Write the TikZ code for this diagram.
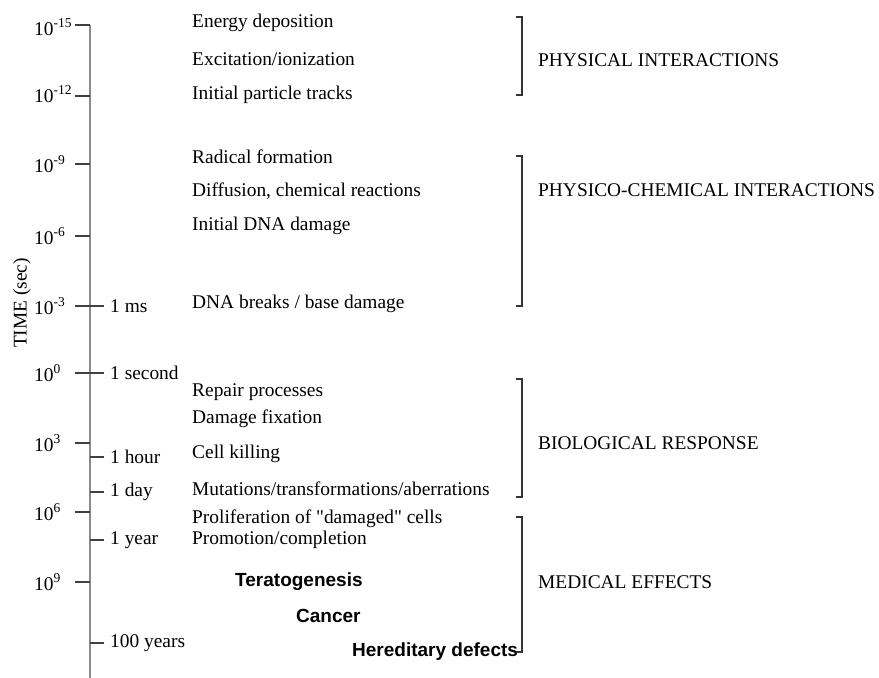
\documentclass[tikz,border=0pt]{standalone}
\usepackage{fontspec}
\setmainfont{Liberation Serif}
\newfontfamily\effectfont{Liberation Sans}
\newcommand\straightquote{\XeTeXglyph\XeTeXcharglyph"22\relax}
\newcommand\tenpow[1]{10\raisebox{8pt}{\fontsize{13.5}{15}\selectfont #1}}

\begin{document}
\begin{tikzpicture}[x=1pt, y=-1pt,
  every node/.style={font=\fontsize{19.4}{22}\selectfont, inner sep=0pt},
  event/.style={anchor=west},
  effect/.style={anchor=west, font=\fontsize{19}{22}\selectfont\effectfont\bfseries},
  group/.style={anchor=west},
  tick/.style={draw=black!75, line width=1.1pt}]
  \useasboundingbox (0,0) rectangle (879,678);

  % time axis
  \draw[black!45, line width=1.3pt] (90,25) -- (90,678);
  \node[rotate=90] (axislabel) at (22,303) {TIME (sec)};

  \foreach \y/\e [count=\i] in {27/-15, 94/-12, 164/-9, 236/-6, 306/-3, 373/0, 443/3, 512/6, 582/9} {
    \node[anchor=west] (pow\i) at (34,\y) {\tenpow{\e}};
  }
  \foreach \y in {25, 96, 164, 236, 306, 373, 443, 512, 582}
    \draw[tick] (75,\y) -- (90,\y);
  \foreach \y/\t [count=\i] in {306/1 ms, 373/1 second, 457/1 hour, 492/1 day, 540/1 year, 643/100 years} {
    \draw[tick] (90,\y) -- (104,\y);
    \node[anchor=west] (clock\i) at (110,\y) {\t};
  }

  % events
  \foreach \y/\t [count=\i] in {23/Energy deposition, 59/{Excitation/ionization}, 95/Initial particle tracks,
      157/Radical formation, 191/{Diffusion, chemical reactions}, 226/Initial DNA damage,
      304/{DNA breaks / base damage}, 392/Repair processes, 419/Damage fixation, 454/Cell killing,
      489/{Mutations/transformations/aberrations},
      519/{Proliferation of \straightquote damaged\straightquote\ cells},
      540/{Promotion/completion}}
    \node[event] (ev\i) at (192,\y) {\t};

  \node[effect] (terato) at (235,582) {Teratogenesis};
  \node[effect] (cancer) at (296,616) {Cancer};
  \node[effect] (hered) at (352,652) {Hereditary defects};

  % brackets
  \foreach \t/\b in {17/95, 156/306, 379/497, 517/652}
    \draw[black!80, line width=1.1pt] (516,\t) -- (522,\t) -- (522,\b) -- (516,\b);

  \node[group] (phys) at (538,60) {PHYSICAL INTERACTIONS};
  \node[group] (chem) at (538,190) {PHYSICO-CHEMICAL INTERACTIONS};
  \node[group] (bio) at (538,443) {BIOLOGICAL RESPONSE};
  \node[group] (med) at (538,582) {MEDICAL EFFECTS};
\end{tikzpicture}
\end{document}
